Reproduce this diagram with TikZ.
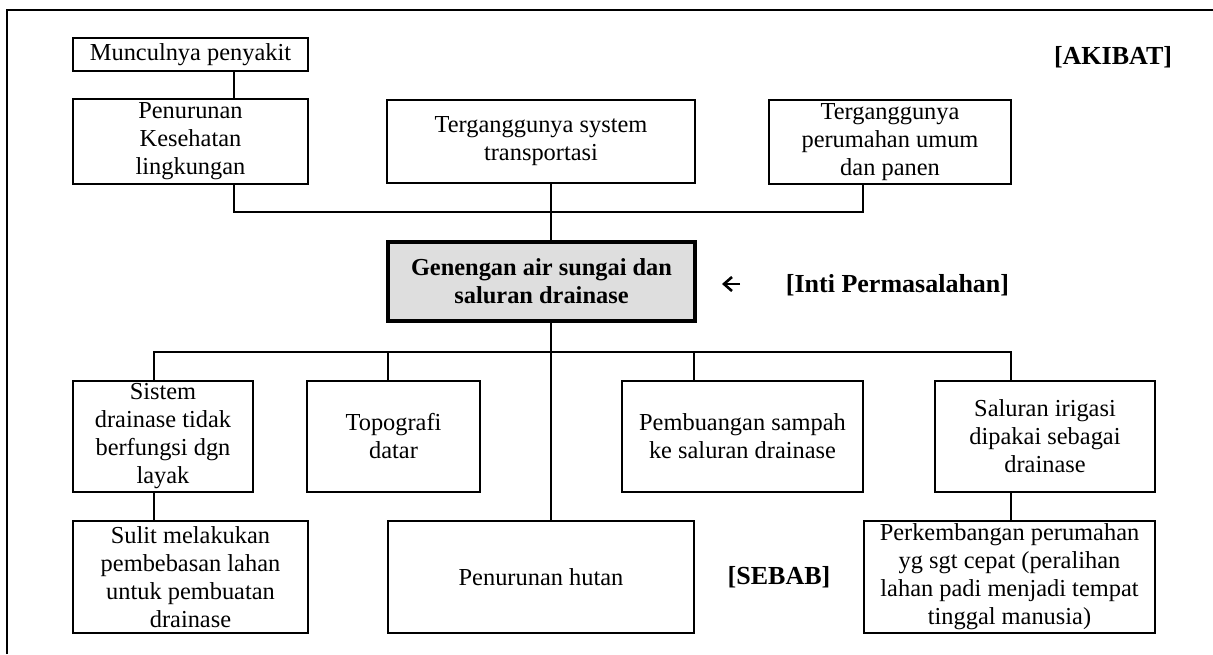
\documentclass[tikz,border=0pt]{standalone}
\usepackage{fontspec}
\setmainfont{Liberation Serif}
\usetikzlibrary{arrows.meta}
\begin{document}
\begin{tikzpicture}[x=0.5pt,y=-0.5pt,
  box/.style={draw,line width=1pt,inner sep=0pt,align=center,font=\fontsize{12.2}{14}\selectfont},
  core/.style={draw,line width=2.2pt,fill=black!13,inner sep=0pt,align=center,font=\fontsize{12.2}{14}\selectfont\bfseries},
  lab/.style={inner sep=0pt,font=\fontsize{13}{15}\selectfont\bfseries},
  conn/.style={line width=1pt}]
\useasboundingbox (0,0) rectangle (1213,654);
\draw[line width=1.2pt] (7,654) -- (7,10) -- (1213,10);
% top
\node[box,minimum width=117.5pt,minimum height=16.5pt] (munc) at (190.5,54.5) {Munculnya penyakit};
\node[box,minimum width=117.5pt,minimum height=42.5pt] (penkes) at (190.5,141.5) {Penurunan\\Kesehatan\\lingkungan};
\node[box,minimum width=154pt,minimum height=41.5pt] (sys) at (541,141.5) {Terganggunya system\\transportasi};
\node[box,minimum width=121pt,minimum height=42pt] (perum) at (890,142) {Terganggunya\\perumahan umum\\dan panen};
\node[core,minimum width=153.5pt,minimum height=39.5pt] (core) at (541.5,281.5) {Genengan air sungai dan\\saluran drainase};
\node[lab] (akibat) at (1113,57) {[AKIBAT]};
\coordinate (arrA) at (740,284);
\coordinate (arrB) at (722,284);
\draw[line width=1.3pt,-{Straight Barb[length=4pt,width=7pt,line width=1.3pt]}] (arrA) -- (arrB);
\node[lab] (inti) at (897.5,285) {[Inti Permasalahan]};
% bottom
\node[box,minimum width=90pt,minimum height=55.5pt] (sistem) at (163,436.5) {Sistem\\drainase tidak\\berfungsi dgn\\layak};
\node[box,minimum width=86.5pt,minimum height=55.5pt] (topo) at (393.5,436.5) {Topografi\\datar};
\node[box,minimum width=120.5pt,minimum height=55.5pt] (pemb) at (742.5,436.5) {Pembuangan sampah\\ke saluran drainase};
\node[box,minimum width=110pt,minimum height=55.5pt] (salur) at (1045,436.5) {Saluran irigasi\\dipakai sebagai\\drainase};
\node[box,minimum width=117.5pt,minimum height=56pt] (sulit) at (190.5,577) {Sulit melakukan\\pembebasan lahan\\untuk pembuatan\\drainase};
\node[box,minimum width=153pt,minimum height=56pt] (hutan) at (541,577) {Penurunan hutan};
\node[box,minimum width=145.5pt,minimum height=56pt] (perk) at (1009.5,577) {Perkembangan perumahan\\yg sgt cepat (peralihan\\lahan padi menjadi tempat\\tinggal manusia)};
\node[lab] (sebab) at (779,577) {[SEBAB]};
% coordinates
\coordinate (tl) at (234,212);
\coordinate (tr) at (863,212);
\coordinate (bl) at (154,352);
\coordinate (br) at (1011,352);
\coordinate (spine) at (551,0);
% connectors top
\draw[conn] (munc.south -| tl) -- (penkes.north -| tl);
\draw[conn] (penkes.south -| tl) -- (tl) -- (tr) -- (perum.south -| tr);
\draw[conn] (sys.south -| spine) -- (core.north -| spine);
% connectors bottom
\draw[conn] (core.south -| spine) -- (hutan.north -| spine);
\draw[conn] (sistem.north -| bl) -- (bl) -- (br) -- (salur.north -| br);
\draw[conn] (topo.north -| 388,0) -- (388,352);
\draw[conn] (pemb.north -| 694,0) -- (694,352);
\draw[conn] (sistem.south -| bl) -- (sulit.north -| bl);
\draw[conn] (salur.south -| br) -- (perk.north -| br);
\end{tikzpicture}
\end{document}
